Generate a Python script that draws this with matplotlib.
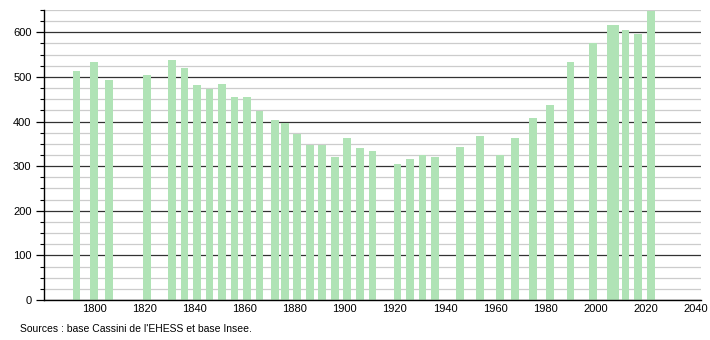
import matplotlib
matplotlib.use("Agg")
import matplotlib.pyplot as plt
from matplotlib.ticker import MultipleLocator

plt.rcParams['font.family'] = ['Liberation Sans', 'DejaVu Sans']

# Census years and population
years = [1793, 1800, 1806, 1821, 1831, 1836, 1841, 1846, 1851, 1856,
         1861, 1866, 1872, 1876, 1881, 1886, 1891, 1896, 1901, 1906,
         1911, 1921, 1926, 1931, 1936, 1946, 1954, 1962, 1968, 1975,
         1982, 1990, 1999, 2006, 2008, 2012, 2017, 2022]
population = [513, 534, 493, 505, 538, 519, 481, 474, 484, 456,
              454, 424, 403, 396, 371, 347, 347, 320, 362, 340,
              335, 304, 317, 325, 320, 344, 367, 325, 362, 409,
              436, 534, 575, 617, 617, 605, 596, 648]

x_ticks = list(range(1800, 2041, 20))
source_text = "Sources : base Cassini de l'EHESS et base Insee."

fig = plt.figure(figsize=(7.1, 3.4), dpi=100)
ax = fig.add_axes([0.062, 0.1176, 0.925, 0.853])

ax.bar(years, population, width=3.1, color='#b0e3b6', zorder=2)

ax.set_xlim(1780, 2042)
ax.set_ylim(0, 650)
ax.set_xticks(x_ticks)
ax.yaxis.set_major_locator(MultipleLocator(100))
ax.yaxis.set_minor_locator(MultipleLocator(25))

# Grid: dark major lines, light minor lines
ax.grid(which='minor', axis='y', color='#cccccc', linewidth=0.9, zorder=0)
ax.grid(which='major', axis='y', color='#333333', linewidth=0.9, zorder=1)
ax.set_axisbelow(True)

for side in ('top', 'right'):
    ax.spines[side].set_visible(False)
ax.spines['left'].set_linewidth(1.0)
ax.spines['bottom'].set_linewidth(1.0)

ax.tick_params(axis='y', which='major', length=6, width=0.9, labelsize=8, pad=3)
ax.tick_params(axis='y', which='minor', length=3, width=0.8)
ax.tick_params(axis='x', which='both', length=0, labelsize=8, pad=3)

fig.text(0.028, 0.018, source_text, fontsize=7.5, ha='left', va='bottom')

fig.savefig("out.png", dpi=100)
